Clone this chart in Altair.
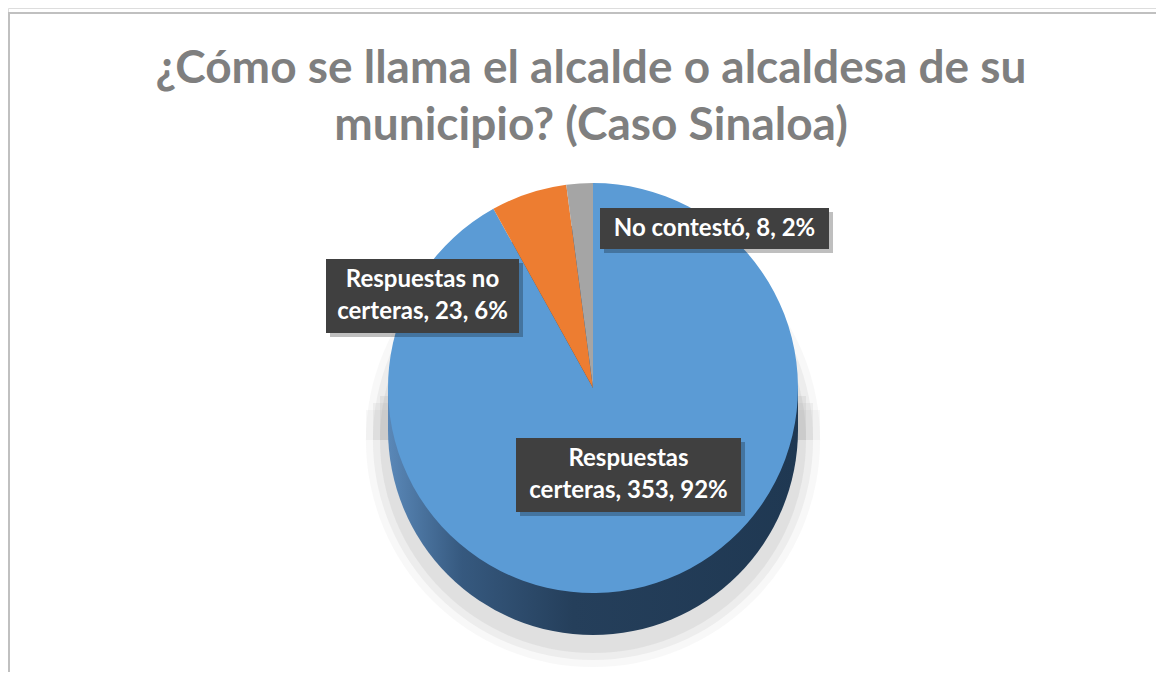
import textwrap
import altair as alt
import pandas as pd

# ---- data ----
categorias = ["Respuestas certeras", "Respuestas no certeras", "No contestó"]
valores = [353, 23, 8]
porcentajes = [92, 6, 2]
colores = ["#5B9BD5", "#ED7D31", "#A5A5A5"]
titulo = ["¿Cómo se llama el alcalde o alcaldesa de su", "municipio? (Caso Sinaloa)"]

etiquetas = ["\n".join(textwrap.wrap(f"{c}, {v}, {p}%", width=18))
             for c, v, p in zip(categorias, valores, porcentajes)]

df = pd.DataFrame({
    "categoria": categorias,
    "valor": valores,
    "pct": porcentajes,
    "orden": list(range(len(categorias))),
    "etiqueta": etiquetas,
})
df_titulo = pd.DataFrame({"linea": titulo, "n": list(range(len(titulo)))})

W, H = 1148, 664
CX, CY, R, D = 585, 380, 205, 42
FONT = "Lato"

one = alt.Data(values=[{"k": 1}])

# soft shadow under the pie
shadow_layers = []
for extra, op in [(22, 0.07), (15, 0.11), (8, 0.15)]:
    shadow_layers.append(
        alt.Chart(one).mark_rect(color="#9a9a9a", opacity=op).encode(
            x=alt.value(CX - R - extra), x2=alt.value(CX + R + extra),
            y=alt.value(CY + extra), y2=alt.value(CY + D + 10)))
    shadow_layers.append(
        alt.Chart(one).mark_arc(color="#9a9a9a", opacity=op, theta=0, theta2=6.2832,
                                outerRadius=R + extra).encode(
            x=alt.value(CX), y=alt.value(CY + D + 10)))

side_grad = alt.Gradient(
    gradient="linear", x1=0, x2=1, y1=0, y2=0,
    stops=[alt.GradientStop(offset=0, color="#5A88B8"),
           alt.GradientStop(offset=0.18, color="#36597F"),
           alt.GradientStop(offset=0.45, color="#253F5B"),
           alt.GradientStop(offset=1, color="#1F3852")])

side_rect = alt.Chart(one).mark_rect(fill=side_grad).encode(
    x=alt.value(CX - R), x2=alt.value(CX + R), y=alt.value(CY), y2=alt.value(CY + D))
side_circle = alt.Chart(one).mark_arc(fill=side_grad, theta=0, theta2=6.2832,
                                      outerRadius=R).encode(
    x=alt.value(CX), y=alt.value(CY + D))

pie = alt.Chart(df).mark_arc(outerRadius=R).encode(
    theta=alt.Theta("valor:Q", stack=True),
    color=alt.Color("categoria:N", scale=alt.Scale(domain=categorias, range=colores),
                    legend=None),
    order=alt.Order("orden:Q"),
    x=alt.value(CX), y=alt.value(CY),
    tooltip=["categoria", "valor", "pct"],
)

# label boxes (layout positions, in chart pixels)
cajas = {
    "No contestó": (592, 821, 200, 241),
    "Respuestas no certeras": (318, 511, 251, 325),
    "Respuestas certeras": (508, 733, 430, 504),
}
label_layers = []
for cat, (x0, x1, y0, y1) in cajas.items():
    n_lines = 2 if (y1 - y0) > 50 else 1
    first_y = (y0 + y1) / 2 - (16 if n_lines == 2 else 0)
    label_layers.append(
        alt.Chart(one).mark_rect(color="#000000", opacity=0.25).encode(
            x=alt.value(x0 + 4), x2=alt.value(x1 + 4), y=alt.value(y0 + 4), y2=alt.value(y1 + 4)))
    label_layers.append(
        alt.Chart(one).mark_rect(color="#404040").encode(
            x=alt.value(x0), x2=alt.value(x1), y=alt.value(y0), y2=alt.value(y1)))
    label_layers.append(
        alt.Chart(df).transform_filter(alt.datum.categoria == cat).mark_text(
            font=FONT, fontSize=24, fontWeight="bold", color="white",
            lineBreak="\n", lineHeight=32, align="center", baseline="middle").encode(
            text="etiqueta:N",
            x=alt.value((x0 + x1) / 2), y=alt.value(first_y)))

title_layers = []
for i, ypos in enumerate([75, 132]):
    title_layers.append(
        alt.Chart(df_titulo).transform_filter(alt.datum.n == i).mark_text(
            font=FONT, fontSize=46, fontWeight="bold", color="#7F7F7F",
            align="center", baseline="alphabetic").encode(
            text="linea:N", x=alt.value(583), y=alt.value(ypos)))

border = [
    alt.Chart(one).mark_rule(color="#C0C0C0", strokeWidth=2).encode(
        x=alt.value(0), x2=alt.value(W), y=alt.value(5)),
    alt.Chart(one).mark_rule(color="#C0C0C0", strokeWidth=2).encode(
        x=alt.value(1), y=alt.value(5), y2=alt.value(H)),
]

chart = alt.layer(
    *shadow_layers, side_rect, side_circle, pie, *label_layers, *title_layers, *border
).properties(
    width=W, height=H,
    autosize=alt.AutoSizeParams(type="none"),
    padding=0,
).configure_view(stroke=None).configure(background="white")

chart.save("out.html", embed_options={"renderer": "svg", "actions": False})
